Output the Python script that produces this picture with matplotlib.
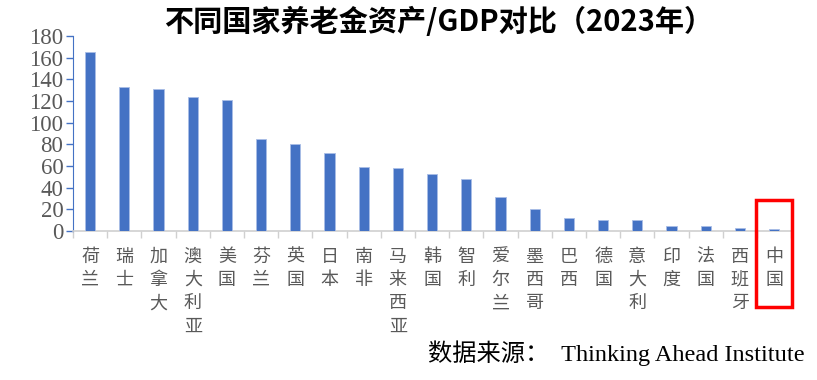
import matplotlib
matplotlib.use("Agg")
import matplotlib.pyplot as plt
from matplotlib.patches import Rectangle

plt.rcParams['font.family'] = ['Noto Sans CJK SC', 'DejaVu Sans']

countries = ["荷兰", "瑞士", "加拿大", "澳大利亚", "美国", "芬兰", "英国", "日本", "南非",
             "马来西亚", "韩国", "智利", "爱尔兰", "墨西哥", "巴西", "德国", "意大利",
             "印度", "法国", "西班牙", "中国"]
ratio = [165.5, 132.7, 130.8, 123.4, 121.3, 85.3, 80.0, 72.0, 59.0,
         58.3, 52.6, 47.7, 31.7, 20.0, 12.3, 10.0, 10.0, 4.9, 4.3, 2.8, 1.8]
yticks = list(range(0, 181, 20))

blue = "#4472C4"
gray = "#595959"

fig = plt.figure(figsize=(8.17, 3.8), dpi=100)
ax = fig.add_axes([0.0894, 0.392, 0.879, 0.513])

x = list(range(len(countries)))
ax.bar(x, ratio, width=0.3, color=blue, edgecolor="#a9bde6", linewidth=0.6, zorder=3)

ax.set_xlim(-0.5, len(countries) - 0.5)
ax.set_ylim(0, 180)
ax.set_yticks(yticks)
ax.set_yticklabels([str(v) for v in yticks], family="Liberation Serif", fontsize=16.5, color=gray)

# stacked vertical category labels
ax.set_xticks(x)
ax.set_xticklabels(["\n".join(c) for c in countries], fontsize=13, color=gray,
                   linespacing=1.38, va="top")
ax.tick_params(axis="x", length=0, pad=12)
# separators between categories (Excel style)
ax.set_xticks([i - 0.5 for i in range(len(countries) + 1)], minor=True)
ax.tick_params(axis="x", which="minor", length=5, color="#d0d0d0", width=1)

ax.tick_params(axis="y", length=5, color=blue, width=1, pad=2)
for s in ["top", "right"]:
    ax.spines[s].set_visible(False)
ax.spines["left"].set_color(blue)
ax.spines["bottom"].set_color("#d0d0d0")
ax.spines["bottom"].set_linewidth(1.2)

# highlight China
last = len(countries) - 1
ax.add_patch(Rectangle((last - 0.52, -70), 1.04, 98.5, fill=False, edgecolor="#ff0000",
                       linewidth=2.5, clip_on=False, zorder=5))

fig.text(0.537, 0.942, "不同国家养老金资产/GDP对比（2023年）", ha="center", va="center",
         fontsize=21, fontweight="bold", color="black")
fig.text(0.985, 0.071, "数据来源：  Thinking Ahead Institute", ha="right", va="center",
         fontsize=17.5, color="black", family=["Liberation Serif", "Noto Sans CJK SC"])

fig.savefig("out.png", dpi=100)
